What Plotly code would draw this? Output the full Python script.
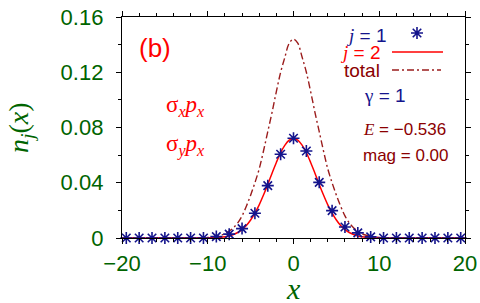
import plotly.graph_objects as go

# ---------------- data ----------------
# j = 1 (stars)
x_j1 = [-19.5, -18, -16.5, -15, -13.5, -12, -10.5, -9, -7.5, -6, -4.5, -3, -1.5, 0,
        1.5, 3, 4.5, 6, 7.5, 9, 10.5, 12, 13.5, 15, 16.5, 18, 19.5]
n_j1 = [0, 0, 0, 0, 0, 0, 0, 0.0010, 0.0028, 0.0068, 0.0179, 0.0379, 0.0606, 0.0722,
        0.0630, 0.0403, 0.0198, 0.0080, 0.0037, 0.0008, 0, 0, 0, 0, 0, 0, 0]

# j = 2 (solid red line) and total (dash-dot)
x_curve = [-20, -15, -12, -11, -10.5, -10, -9.5, -9, -8.5, -8, -7.5, -7, -6.5, -6, -5.5, -5,
           -4.5, -4, -3.5, -3, -2.5, -2, -1.5, -1, -0.5, 0, 0.5, 1, 1.5, 2, 2.5, 3, 3.5,
           4, 4.5, 5, 5.5, 6, 6.5, 7, 7.5, 8, 8.5, 9, 9.5, 10, 10.5, 11, 12, 15, 20]
n_j2 = [0, 0, 0, 0, 0, 0.0001, 0.0001, 0.0003, 0.0005, 0.0009, 0.0015, 0.0025, 0.0040,
        0.0061, 0.0090, 0.0130, 0.0180, 0.0240, 0.0311, 0.0388, 0.0469, 0.0547, 0.0617,
        0.0672, 0.0708, 0.0720, 0.0708, 0.0672, 0.0617, 0.0547, 0.0469, 0.0388, 0.0311,
        0.0240, 0.0180, 0.0130, 0.0090, 0.0061, 0.0040, 0.0025, 0.0015, 0.0009, 0.0005,
        0.0003, 0.0001, 0.0001, 0, 0, 0, 0, 0]
n_total = [0, 0, 0, 0.0001, 0.0002, 0.0004, 0.0007, 0.0012, 0.0020, 0.0030, 0.0050, 0.0075,
           0.0110, 0.0160, 0.0230, 0.0310, 0.0400, 0.0500, 0.0630, 0.0770, 0.0910, 0.1060,
           0.1200, 0.1310, 0.1410, 0.1440, 0.1410, 0.1310, 0.1200, 0.1060, 0.0910, 0.0770,
           0.0630, 0.0500, 0.0400, 0.0310, 0.0230, 0.0160, 0.0110, 0.0075, 0.0050, 0.0030,
           0.0020, 0.0012, 0.0007, 0.0004, 0.0002, 0.0001, 0, 0, 0]

x_ticks = [-20, -10, 0, 10, 20]
x_ticktext = ["\u221220", "\u221210", "0", "10", "20"]
y_ticks = [0, 0.04, 0.08, 0.12, 0.16]
y_ticktext = ["0", "0.04", "0.08", "0.12", "0.16"]

# ---------------- style ----------------
W, H = 480, 303
L, R, T, B = 122, 465, 17, 238
GREEN = "#006400"
NAVY = "#14148c"
RED = "#ff0000"
DRED = "#8b0000"
SANS = "Liberation Sans, Arial, sans-serif"
SERIF = "Liberation Serif, Times New Roman, serif"
DASHDOT = "7px,3px,2px,3px"


def px(x):
    return (x - L) / (R - L)


def py(y):
    return (B - y) / (B - T)


fig = go.Figure()
fig.add_trace(go.Scatter(x=x_curve, y=n_total, mode="lines",
                         line=dict(color="#9b1c1c", width=1.4, dash=DASHDOT),
                         line_shape="spline", showlegend=False))
fig.add_trace(go.Scatter(x=x_curve, y=n_j2, mode="lines",
                         line=dict(color=RED, width=1.5),
                         line_shape="spline", showlegend=False))
fig.add_trace(go.Scatter(x=x_j1, y=n_j1, mode="markers", cliponaxis=False,
                         marker=dict(symbol="asterisk-open", size=10, color=NAVY,
                                     line=dict(color=NAVY, width=1.6)),
                         showlegend=False))
# legend key star on an overlay axis in paper-like units
fig.add_trace(go.Scatter(x=[px(417)], y=[py(33)], mode="markers", xaxis="x2", yaxis="y2",
                         cliponaxis=False,
                         marker=dict(symbol="asterisk-open", size=10, color=NAVY,
                                     line=dict(color=NAVY, width=1.6)),
                         showlegend=False))

axis_common = dict(showline=True, linecolor="black", linewidth=1.3, mirror="allticks",
                   ticks="outside", ticklen=5, tickwidth=1, tickcolor="black",
                   showgrid=False, zeroline=False, automargin=False,
                   tickfont=dict(family=SANS, size=22, color=GREEN))

fig.update_layout(
    width=W, height=H,
    margin=dict(l=L, r=W - R, t=T, b=H - B, autoexpand=False),
    paper_bgcolor="white", plot_bgcolor="white",
    showlegend=False,
    xaxis=dict(range=[-20, 20], tickvals=x_ticks, ticktext=x_ticktext,
               minor=dict(ticks="outside", ticklen=3, dtick=2, tick0=0, tickcolor="black"),
               ticklabelstandoff=0, **axis_common),
    yaxis=dict(range=[0, 0.16], tickvals=y_ticks, ticktext=y_ticktext,
               minor=dict(ticks="outside", ticklen=3, dtick=0.02, tick0=0, tickcolor="black"),
               ticklabelstandoff=8, **axis_common),
    xaxis2=dict(range=[0, 1], overlaying="x", visible=False, automargin=False),
    yaxis2=dict(range=[0, 1], overlaying="y", visible=False, automargin=False),
)

ann = []


def add(text, x, y, color, size, family=SANS, xanchor="center", yanchor="middle", angle=0):
    ann.append(dict(text=text, x=px(x), y=py(y), xref="paper", yref="paper",
                    showarrow=False, xanchor=xanchor, yanchor=yanchor, textangle=angle,
                    font=dict(family=family, size=size, color=color)))


add("(b)", 155, 48, RED, 26)
add("\u03c3<sub><i>x</i></sub><i>p</i><sub><i>x</i></sub>", 164, 106, RED, 23, SERIF, xanchor="left")
add("\u03c3<sub><i>y</i></sub><i>p</i><sub><i>x</i></sub>", 164, 145, RED, 23, SERIF, xanchor="left")

serif_j = "<span style='font-family:Liberation Serif'><i>j</i></span>"
add(serif_j + " = 1", 389, 35, NAVY, 19, xanchor="right")
add(serif_j + " = 2", 383, 52, RED, 19, xanchor="right")
add("total", 382, 70, DRED, 19, xanchor="right")
add("<span style='font-family:Liberation Serif'>\u03b3</span> = 1", 362, 96, NAVY, 19, xanchor="left")
add("<span style='font-family:Liberation Serif'><i>E</i></span> = \u22120.536", 361, 129, DRED, 17, xanchor="left")
add("mag = 0.00", 361, 155, DRED, 17, xanchor="left")

add("<i>x</i>", 293, 288, GREEN, 30, SERIF)
add("<i>n<sub>j</sub></i>(<i>x</i>)", 20, 128, GREEN, 28, SERIF, angle=-90)

fig.update_layout(annotations=ann)

fig.add_shape(type="line", xref="paper", yref="paper", x0=px(392), x1=px(443), y0=py(52), y1=py(52),
              line=dict(color=RED, width=1.5))
fig.add_shape(type="line", xref="paper", yref="paper", x0=px(392), x1=px(441), y0=py(70), y1=py(70),
              line=dict(color="#9b1c1c", width=1.4, dash=DASHDOT))

fig.write_html("out.html", config={"displayModeBar": False},
               post_script="document.body.style.margin='0';document.body.style.padding='0';")
